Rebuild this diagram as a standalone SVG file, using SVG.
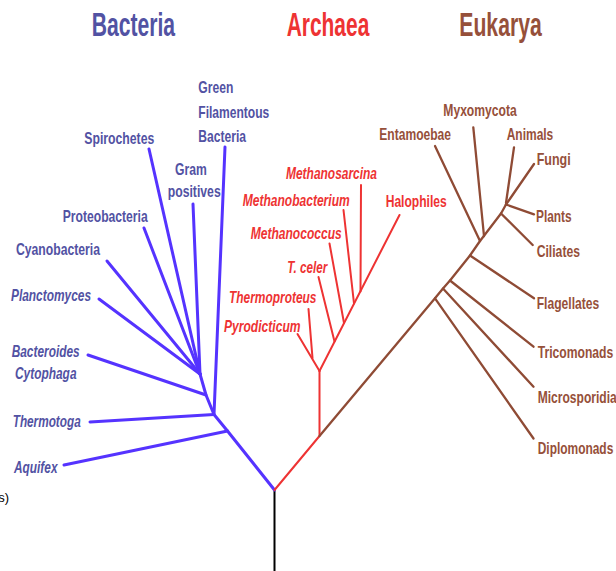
<svg xmlns="http://www.w3.org/2000/svg" width="616" height="571" viewBox="0 0 616 571">
<style>
text{font-family:"Liberation Sans",Arial,sans-serif;font-weight:bold;font-size:17px}
.t{font-size:34px}
.b{fill:#5252a3}
.a{fill:#ee3333}
.e{fill:#96503a}
.i{font-style:italic}
.k{fill:#000;font-weight:normal;font-size:13px}
.lb{stroke:#5533ff;stroke-width:3;fill:none;stroke-linecap:round;stroke-linejoin:round}
.la{stroke:#ee3333;stroke-width:2;fill:none;stroke-linecap:round;stroke-linejoin:round}
.le{stroke:#8f4b35;stroke-width:2.3;fill:none;stroke-linecap:round;stroke-linejoin:round}
.lk{stroke:#000;stroke-width:2;fill:none}
</style>
<rect width="616" height="571" fill="#fff"/>
<g id="connectors">
<line class="lk" x1="274.5" y1="490" x2="274.5" y2="571"/>
<polyline class="lb" points="274.5,490 227.5,431 214,414.5 206,395 200,374"/>
<line class="lb" x1="64" y1="465" x2="227.5" y2="431"/>
<line class="lb" x1="90" y1="422" x2="214" y2="414.5"/>
<line class="lb" x1="88" y1="355" x2="206" y2="395"/>
<line class="lb" x1="99" y1="299" x2="200" y2="374"/>
<line class="lb" x1="107" y1="261" x2="200" y2="374"/>
<line class="lb" x1="144" y1="228" x2="200" y2="374"/>
<line class="lb" x1="149" y1="149" x2="200" y2="374"/>
<line class="lb" x1="193" y1="204" x2="200" y2="374"/>
<line class="lb" x1="225" y1="147" x2="214" y2="414.5"/>
<polyline class="la" points="274.5,490 319.5,436 319.5,371"/>
<line class="la" x1="319.5" y1="371" x2="297.5" y2="334"/>
<line class="la" x1="312.5" y1="358" x2="308.5" y2="309"/>
<line class="la" x1="319.5" y1="371" x2="399.5" y2="215"/>
<line class="la" x1="334.5" y1="341.5" x2="318.5" y2="277"/>
<line class="la" x1="344" y1="323" x2="329.5" y2="243.5"/>
<line class="la" x1="354" y1="303.5" x2="343.5" y2="210"/>
<line class="la" x1="360.5" y1="291.5" x2="361" y2="185"/>
<polyline class="le" points="319.5,436 435,298.3 443,288.5 450,280.5 470,255.5 480,241 501,213.5 506,204.5"/>
<line class="le" x1="435" y1="298.3" x2="533.5" y2="438.5"/>
<line class="le" x1="443" y1="288.5" x2="533.5" y2="386.7"/>
<line class="le" x1="450" y1="280.5" x2="533.5" y2="346.7"/>
<line class="le" x1="470" y1="255.5" x2="534" y2="298.3"/>
<line class="le" x1="435" y1="146" x2="480" y2="241"/>
<line class="le" x1="473.3" y1="127.3" x2="484" y2="236"/>
<line class="le" x1="501" y1="213.5" x2="532.7" y2="245"/>
<line class="le" x1="506" y1="204.5" x2="534" y2="214.3"/>
<line class="le" x1="506" y1="204.5" x2="534" y2="164"/>
<line class="le" x1="514" y1="147.3" x2="506" y2="203"/>
</g>
<g id="title-bacteria"><text class="t b" x="91.7" y="36" textLength="83.3" lengthAdjust="spacingAndGlyphs">Bacteria</text></g>
<g id="title-archaea"><text class="t a" x="286.7" y="36" textLength="82.6" lengthAdjust="spacingAndGlyphs">Archaea</text></g>
<g id="title-eukarya"><text class="t e" x="459.3" y="36" textLength="82.4" lengthAdjust="spacingAndGlyphs">Eukarya</text></g>
<g id="green-filamentous">
<text class="b" x="198.3" y="92.5" textLength="35" lengthAdjust="spacingAndGlyphs">Green</text>
<text class="b" x="198.3" y="117.7" textLength="71" lengthAdjust="spacingAndGlyphs">Filamentous</text>
<text class="b" x="198.3" y="142" textLength="47.7" lengthAdjust="spacingAndGlyphs">Bacteria</text>
</g>
<g id="spirochetes"><text class="b" x="84.3" y="144.3" textLength="70" lengthAdjust="spacingAndGlyphs">Spirochetes</text></g>
<g id="gram-positives">
<text class="b" x="175" y="175" textLength="31.7" lengthAdjust="spacingAndGlyphs">Gram</text>
<text class="b" x="167.7" y="197" textLength="53" lengthAdjust="spacingAndGlyphs">positives</text>
</g>
<g id="proteobacteria"><text class="b" x="62.7" y="222.3" textLength="85" lengthAdjust="spacingAndGlyphs">Proteobacteria</text></g>
<g id="cyanobacteria"><text class="b" x="16" y="255" textLength="84" lengthAdjust="spacingAndGlyphs">Cyanobacteria</text></g>
<g id="planctomyces"><text class="b i" x="11" y="300.7" textLength="80" lengthAdjust="spacingAndGlyphs">Planctomyces</text></g>
<g id="bacteroides-cytophaga">
<text class="b i" x="11.7" y="356.7" textLength="68" lengthAdjust="spacingAndGlyphs">Bacteroides</text>
<text class="b i" x="15" y="379" textLength="61.5" lengthAdjust="spacingAndGlyphs">Cytophaga</text>
</g>
<g id="thermotoga"><text class="b i" x="12.7" y="426.7" textLength="68" lengthAdjust="spacingAndGlyphs">Thermotoga</text></g>
<g id="aquifex"><text class="b i" x="14" y="473.3" textLength="43.5" lengthAdjust="spacingAndGlyphs">Aquifex</text></g>
<g id="partial-label"><text class="k" x="9" y="502" text-anchor="end">s)</text></g>
<g id="methanosarcina"><text class="a i" x="286" y="179.3" textLength="91" lengthAdjust="spacingAndGlyphs">Methanosarcina</text></g>
<g id="methanobacterium"><text class="a i" x="242.7" y="206" textLength="107" lengthAdjust="spacingAndGlyphs">Methanobacterium</text></g>
<g id="halophiles"><text class="a" x="385.7" y="206.7" textLength="61" lengthAdjust="spacingAndGlyphs">Halophiles</text></g>
<g id="methanococcus"><text class="a i" x="250.7" y="239.3" textLength="91" lengthAdjust="spacingAndGlyphs">Methanococcus</text></g>
<g id="t-celer"><text class="a i" x="287.3" y="273.3" textLength="40" lengthAdjust="spacingAndGlyphs">T. celer</text></g>
<g id="thermoproteus"><text class="a i" x="229" y="303.3" textLength="87.5" lengthAdjust="spacingAndGlyphs">Thermoproteus</text></g>
<g id="pyrodicticum"><text class="a i" x="224" y="331.7" textLength="76.5" lengthAdjust="spacingAndGlyphs">Pyrodicticum</text></g>
<g id="myxomycota"><text class="e" x="443.3" y="116" textLength="73.4" lengthAdjust="spacingAndGlyphs">Myxomycota</text></g>
<g id="entamoebae"><text class="e" x="379.3" y="140" textLength="71.7" lengthAdjust="spacingAndGlyphs">Entamoebae</text></g>
<g id="animals"><text class="e" x="506.7" y="140" textLength="46.6" lengthAdjust="spacingAndGlyphs">Animals</text></g>
<g id="fungi"><text class="e" x="536.7" y="165" textLength="34" lengthAdjust="spacingAndGlyphs">Fungi</text></g>
<g id="plants"><text class="e" x="536" y="221.7" textLength="35.7" lengthAdjust="spacingAndGlyphs">Plants</text></g>
<g id="ciliates"><text class="e" x="536.7" y="257.3" textLength="43.3" lengthAdjust="spacingAndGlyphs">Ciliates</text></g>
<g id="flagellates"><text class="e" x="536.7" y="308.8" textLength="62.6" lengthAdjust="spacingAndGlyphs">Flagellates</text></g>
<g id="tricomonads"><text class="e" x="537.7" y="358.3" textLength="75.6" lengthAdjust="spacingAndGlyphs">Tricomonads</text></g>
<g id="microsporidia"><text class="e" x="537.7" y="402.7" textLength="79" lengthAdjust="spacingAndGlyphs">Microsporidia</text></g>
<g id="diplomonads"><text class="e" x="537.7" y="454" textLength="75.6" lengthAdjust="spacingAndGlyphs">Diplomonads</text></g>
</svg>
